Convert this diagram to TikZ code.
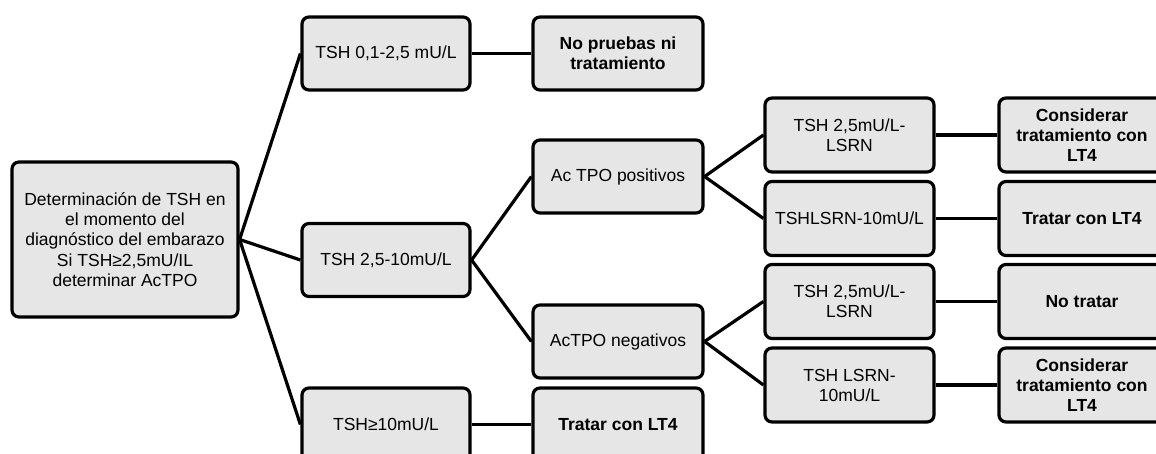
\documentclass[tikz,border=0pt]{standalone}
\usepackage{fontspec}
\setmainfont{Liberation Sans}
\definecolor{boxgray}{RGB}{230,230,230}
\tikzset{
  box/.style={draw=black, fill=boxgray, line width=3.2pt, rounded corners=7pt,
    minimum height=73pt, inner sep=0pt, align=center,
    font=\fontsize{17.5}{20}\selectfont},
  lvone/.style={box, minimum width=168pt},
  lvtwo/.style={box, minimum width=170pt},
  lvthree/.style={box, minimum width=169pt, minimum height=74pt},
  lvfour/.style={box, minimum width=166pt, minimum height=74pt},
  boldbox/.style={font=\fontsize{17.5}{20}\selectfont\bfseries},
  conn/.style={line width=3.2pt, black}
}
\begin{document}
\begin{tikzpicture}[x=1pt,y=-1pt]
\useasboundingbox (0,0) rectangle (1156,454);
\clip (0,0) rectangle (1156,454);
% root
\node[box, minimum width=226pt, minimum height=155pt] (root) at (125,239.5)
  {Determinación de TSH en\\el momento del\\diagnóstico del embarazo\\[1pt]Si TSH≥2,5mU/IL\\determinar AcTPO};
% level 1
\node[lvone] (t1) at (386,53.5) {TSH 0,1-2,5 mU/L};
\node[lvone] (t2) at (386,260) {TSH 2,5-10mU/L};
\node[lvone] (t3) at (386,424.5) {TSH≥10mU/L};
% level 2
\node[lvtwo, boldbox] (np) at (618,53.5) {No pruebas ni\\tratamiento};
\node[lvtwo] (pos) at (618,176.5) {Ac TPO positivos};
\node[lvtwo] (neg) at (618,341.5) {AcTPO negativos};
\node[lvtwo, boldbox] (tr) at (618,424.5) {Tratar con LT4};
% level 3
\node[lvthree] (a) at (849.5,135) {TSH 2,5mU/L-\\LSRN};
\node[lvthree] (b) at (849.5,218.5) {TSHLSRN-10mU/L};
\node[lvthree] (c) at (849.5,301.5) {TSH 2,5mU/L-\\LSRN};
\node[lvthree] (d) at (849.5,385) {TSH LSRN-\\10mU/L};
% level 4
\node[lvfour, boldbox] (ra) at (1082,135) {Considerar\\tratamiento con\\LT4};
\node[lvfour, boldbox] (rb) at (1082,218.5) {Tratar con LT4};
\node[lvfour, boldbox] (rc) at (1082,301.5) {No tratar};
\node[lvfour, boldbox] (rd) at (1082,385) {Considerar\\tratamiento con\\LT4};
% connectors
\draw[conn] (root.east) -- (t1.west);
\draw[conn] (root.east) -- (t2.west);
\draw[conn] (root.east) -- (t3.west);
\draw[conn] (t1.east) -- (np.west);
\draw[conn] (t2.east) -- (pos.west);
\draw[conn] (t2.east) -- (neg.west);
\draw[conn] (t3.east) -- (tr.west);
\draw[conn] (pos.east) -- (a.west);
\draw[conn] (pos.east) -- (b.west);
\draw[conn] (neg.east) -- (c.west);
\draw[conn] (neg.east) -- (d.west);
\draw[conn] (a.east) -- (ra.west);
\draw[conn] (b.east) -- (rb.west);
\draw[conn] (c.east) -- (rc.west);
\draw[conn] (d.east) -- (rd.west);
\end{tikzpicture}
\end{document}
